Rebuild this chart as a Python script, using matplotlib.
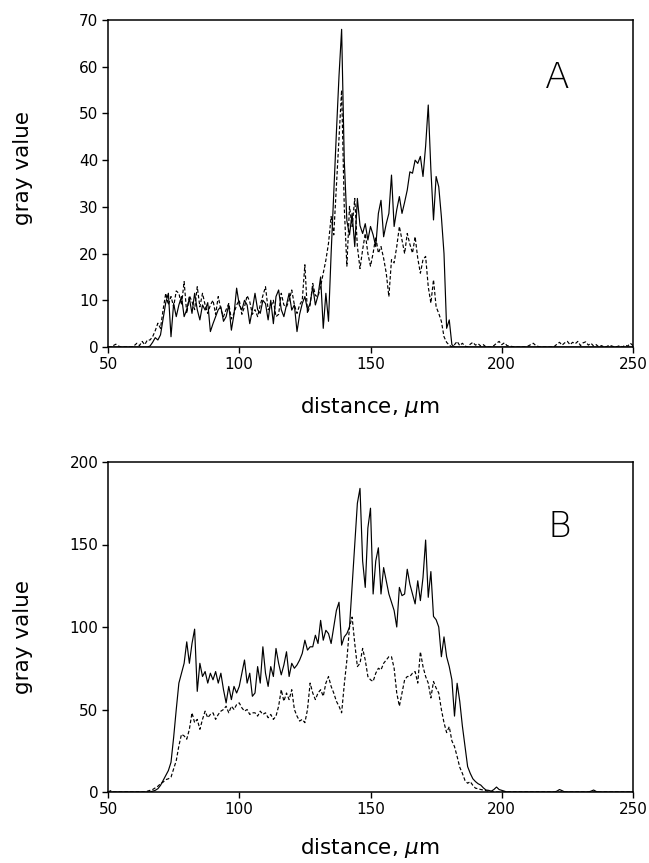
import numpy as np
import matplotlib
matplotlib.use("Agg")
import matplotlib.pyplot as plt

# ---------------- data ----------------
distance = np.arange(50, 251)  # µm, 1 µm sampling

A_solid = [
    0, 0, 0, 0, 0, 0, 0, 0, 0, 0,                      # 50-59
    0, 0, 0, 0, 0, 0, 0.2, 1, 2, 1.5,                  # 60-69
    2.6, 6, 9.5, 11.5, 2.2, 9.3, 6.5, 9, 10.8, 6.5,    # 70-79
    8, 10.4, 7.2, 11.5, 8, 5.8, 9, 7.9, 9.5, 3.3,      # 80-89
    5, 6.5, 8, 8.6, 5.5, 6.5, 9, 3.6, 7, 12.6,         # 90-99
    9, 7.9, 10, 9, 5, 8, 11.5, 8, 7.2, 10,             # 100-109
    9.3, 5.8, 10, 5, 10.8, 12.2, 8, 6.5, 9, 11.5,      # 110-119
    7.9, 9, 3.3, 7, 9.3, 10.8, 8, 9.3, 12.9, 9,        # 120-129
    11, 15, 4, 11.5, 5.5, 20, 33, 45.8, 58, 68,        # 130-139
    40, 27, 24, 28.6, 21.5, 31.8, 26, 24.3, 26.4, 22.9,  # 140-149
    25.8, 24, 21.5, 28.6, 31.4, 23.6, 26.4, 28.6, 36.8, 25.8,  # 150-159
    29.4, 32.2, 28.6, 31, 33.6, 37.5, 37.2, 40, 39.3, 40.8,    # 160-169
    36.5, 43, 51.8, 38, 27.2, 36.5, 34.3, 27.9, 20, 4,         # 170-179
    5.8, 0.5, 0, 0, 0, 0, 0, 0, 0, 0,                  # 180-189
    0, 0, 0, 0, 0, 0, 0, 0, 0, 0,                      # 190-199
    0, 0, 0, 0, 0, 0, 0, 0, 0, 0,                      # 200-209
    0, 0, 0, 0, 0, 0, 0, 0, 0, 0,                      # 210-219
    0, 0, 0, 0, 0, 0, 0, 0, 0, 0,                      # 220-229
    0, 0, 0, 0, 0, 0, 0, 0, 0, 0,                      # 230-239
    0, 0, 0, 0, 0, 0, 0, 0, 0, 0,                      # 240-249
    0,                                                 # 250
]

A_dashed = [
    0, 0, 0.3, 0.6, 0.2, 0, 0, 0, 0, 0,                # 50-59
    0.3, 0.8, 0.3, 1.2, 0.5, 1.5, 1.5, 2.2, 3.5, 5.1,  # 60-69
    4, 8, 11.5, 9, 10.8, 8.6, 12, 11.5, 9, 14,         # 70-79
    7.2, 11, 9.7, 8, 12.9, 8.6, 11.5, 9, 7.2, 9,       # 80-89
    10, 7, 10.8, 8, 6.5, 8, 9.3, 6, 7.2, 9,            # 90-99
    10, 7, 8.6, 11, 9.7, 7, 8, 6.5, 9, 11,             # 100-109
    12.9, 8, 8.6, 10, 6.5, 7, 11.5, 9, 8.6, 10,        # 110-119
    12.2, 9, 7.2, 9, 10, 17.6, 7.2, 9, 13.6, 11,       # 120-129
    10.8, 13, 15.8, 18.6, 22.2, 27.9, 24, 34.3, 45, 55,  # 130-139
    30, 17.3, 30.1, 25.8, 31.8, 21.5, 16.8, 20.8, 24.3, 20,  # 140-149
    17.3, 20.1, 23.6, 20.1, 21.5, 19, 15.8, 10.8, 18.7, 18,  # 150-159
    21.5, 25.8, 22.9, 20, 24.3, 22, 20.1, 23.6, 19, 15.8,    # 160-169
    18.7, 19.4, 12.9, 9.4, 14.4, 8.6, 7.2, 5.5, 2.2, 1,      # 170-179
    0.4, 0, 0.5, 1.2, 0.3, 0.8, 0.2, 0, 0.6, 1.0,      # 180-189
    0.4, 0.7, 0.2, 0.5, 0, 0, 0, 0.3, 0.8, 1.2,        # 190-199
    0.5, 0.9, 0.3, 0.2, 0.1, 0, 0, 0, 0, 0,            # 200-209
    0.2, 0.5, 0.8, 0.3, 0.1, 0, 0, 0, 0, 0,            # 210-219
    0.1, 0.6, 1.0, 0.4, 0.9, 1.2, 0.5, 1.0, 0.7, 1.2,  # 220-229
    0.3, 0.9, 1.1, 0.4, 0.8, 0.2, 0.5, 0, 0.3, 0,      # 230-239
    0.1, 0.4, 0.2, 0, 0.1, 0.3, 0, 0.4, 0.2, 0.8,      # 240-249
    0.3,                                               # 250
]

B_solid = [
    0, 0, 0, 0, 0, 0, 0, 0, 0, 0,                      # 50-59
    0, 0, 0, 0, 0, 0, 0, 0.5, 1, 2,                    # 60-69
    4, 7, 10, 13, 18, 33, 50, 66, 72, 78,              # 70-79
    91, 78, 90, 98.7, 61, 78, 70, 73, 66, 72,          # 80-89
    68, 73, 66, 72, 62, 54, 64, 56, 64, 60,            # 90-99
    64, 72, 80, 66, 72, 58, 60, 76, 66, 88,            # 100-109
    72, 64, 76, 70, 87, 78, 71, 77, 85, 70,            # 110-119
    78, 75, 77, 80, 84, 92, 86, 88, 88, 95,            # 120-129
    90, 104, 92, 98, 96, 90, 100, 110, 115, 89,        # 130-139
    94, 96, 100, 125, 149, 175, 184, 140, 124, 160,    # 140-149
    172, 120, 140, 148, 120, 136, 128, 120, 115, 110,  # 150-159
    100, 124, 119, 120, 135, 126, 120, 114, 128, 116,  # 160-169
    130, 152.7, 118, 133.6, 106.4, 104.4, 100, 82, 94, 82,  # 170-179
    76, 68, 46, 65.9, 55, 40, 27.5, 15.4, 11.3, 8,     # 180-189
    6.3, 5, 4.2, 2.5, 1.2, 1, 0.5, 1.5, 3, 1.5,        # 190-199
    1, 0.5, 0, 0, 0, 0, 0, 0, 0, 0,                    # 200-209
    0, 0, 0, 0, 0, 0, 0, 0, 0, 0,                      # 210-219
    0, 0.5, 1.5, 0.8, 0, 0, 0, 0, 0, 0,                # 220-229
    0, 0, 0, 0, 0.5, 1.2, 0.3, 0, 0, 0,                # 230-239
    0, 0, 0, 0, 0, 0, 0, 0, 0, 0,                      # 240-249
    0,                                                 # 250
]

B_dashed = [
    0, 0.8, 0, 0, 0, 0, 0, 0, 0, 0,                    # 50-59
    0, 0, 0, 0, 0, 0.5, 1, 1.5, 2.5, 3.5,              # 60-69
    5, 6, 7.5, 8, 9, 14, 19, 28, 35, 34,               # 70-79
    32, 38, 48, 42, 44, 38, 44, 49, 45, 47,            # 80-89
    48, 44, 47, 49, 50, 52, 48, 52, 50, 53,            # 90-99
    54, 51, 49, 50, 47, 48, 48, 46, 49, 47,            # 100-109
    48, 45, 47, 44, 46, 52, 62, 55, 60, 56,            # 110-119
    62, 50, 46, 43, 44, 42, 50, 66, 60, 56,            # 120-129
    60, 62, 58, 66, 70, 64, 60, 55, 52, 48,            # 130-139
    65, 80, 100, 106, 90, 76, 78, 87, 80, 70,          # 140-149
    68, 67, 72, 75, 74, 78, 80, 82, 82, 75,            # 150-159
    60, 52, 60, 68, 70, 70, 72, 73, 66, 85,            # 160-169
    76, 70, 66, 57, 67, 63, 60, 50, 42, 36,            # 170-179
    39.6, 31, 27.5, 21.5, 15, 11.3, 7, 5.3, 6.3, 4,    # 180-189
    2.3, 2, 1.5, 1.2, 0.8, 0.5, 0.3, 0, 0, 0,          # 190-199
    0, 0, 0, 0, 0, 0, 0, 0, 0, 0,                      # 200-209
    0, 0, 0, 0, 0, 0, 0, 0, 0, 0,                      # 210-219
    0, 0, 0, 0, 0, 0, 0, 0, 0, 0,                      # 220-229
    0, 0, 0, 0, 0, 0, 0, 0, 0, 0,                      # 230-239
    0, 0, 0, 0, 0, 0, 0, 0, 0, 0,                      # 240-249
    0,                                                 # 250
]

x_ticks = [50, 100, 150, 200, 250]
A_yticks = [0, 10, 20, 30, 40, 50, 60, 70]
B_yticks = [0, 50, 100, 150, 200]
panel_labels = ["A", "B"]
x_label = r"distance, $\mu$m"
y_label = "gray value"

# ---------------- figure ----------------
plt.rcParams["font.family"] = ["DejaVu Sans"]
plt.rcParams["mathtext.fontset"] = "dejavusans"

W, H = 649, 863
fig = plt.figure(figsize=(W / 100, H / 100), dpi=100)

def px_axes(left, top, right, bottom):
    return fig.add_axes([left / W, 1 - bottom / H, (right - left) / W, (bottom - top) / H])

axA = px_axes(108, 20, 633, 347)
axB = px_axes(108, 462, 633, 792)

dash = (0, (3.0, 1.8))
panels = [
    (axA, A_solid, A_dashed, A_yticks, (0, 70), (221, 57.6), 168, 407),
    (axB, B_solid, B_dashed, B_yticks, (0, 200), (222, 160.6), 637, 848),
]

for (ax, s, d, yt, ylim, lab_pos, ylab_y, xlab_y), lab in zip(panels, panel_labels):
    ax.plot(distance, d, color="black", lw=0.85, linestyle=dash)
    ax.plot(distance, s, color="black", lw=0.85)
    ax.set_xlim(50, 250)
    ax.set_ylim(*ylim)
    ax.set_xticks(x_ticks)
    ax.set_yticks(yt)
    ax.tick_params(direction="out", length=4, width=1, labelsize=11,
                   top=False, right=False, pad=3, colors="black")
    for sp in ax.spines.values():
        sp.set_linewidth(1.1)
    ax.text(lab_pos[0], lab_pos[1], lab, fontsize=26, ha="center", va="center",
            fontweight="light", color="black")
    fig.text(23 / W, 1 - ylab_y / H, y_label, rotation=90, ha="center", va="center",
             fontsize=15.5)
    fig.text(370 / W, 1 - xlab_y / H, x_label, ha="center", va="center", fontsize=15.5)

fig.savefig("out.png", dpi=100)
